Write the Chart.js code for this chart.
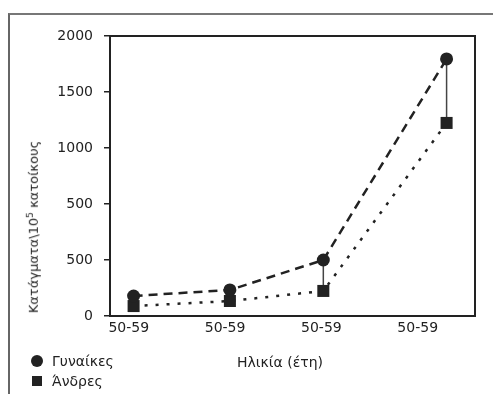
<!DOCTYPE html>
<html>
<head>
<meta charset="utf-8">
<script src="https://cdn.jsdelivr.net/npm/chart.js@4.4.1/dist/chart.umd.min.js"></script>
<style>
  body { margin: 0; background: #fff; }
  #wrap { position: relative; width: 493px; height: 394px; font-family: "DejaVu Sans", sans-serif; color: #222; overflow: hidden; }
  #chart { position: absolute; left: 0; top: 0; }
  #frame { position: absolute; left: 8px; top: 13px; right: -2px; bottom: -2px; border-left: 2px solid #666; border-top: 2px solid #777; }
  #y-title { position: absolute; left: 33px; top: 227px; transform: translate(-50%, -50%) rotate(-90deg); white-space: nowrap; font-size: 13px; }
  #x-title { position: absolute; left: 280px; top: 362px; transform: translate(-50%, -50%); font-size: 14px; white-space: nowrap; }
  #legend { position: absolute; left: 31px; top: 351px; font-size: 14px; line-height: 20px; }
  .legend-item { display: flex; align-items: center; }
  .mark { display: inline-block; background: #222; margin-right: 9px; }
  .mark.circle { width: 12px; height: 12px; border-radius: 50%; }
  .mark.rect { width: 10px; height: 10px; margin-left: 1px; margin-right: 10px; }
</style>
</head>
<body>
<div id="wrap">
  <div id="frame"></div>
  <canvas id="chart" width="493" height="394"></canvas>
  <div id="y-title">Κατάγματα\10<sup style="font-size:9px">5</sup> κατοίκους</div>
  <div id="x-title">Ηλικία (έτη)</div>
  <div id="legend"></div>
</div>
<script>
const ageGroups = ["50-59", "50-59", "50-59", "50-59"];
const groupTickPos = [0, 1, 2, 3];
const pointPos = [0.05, 1.05, 2.02, 3.3];
const women = [143, 186, 400, 1836];
const men = [71, 107, 179, 1379];
const yTickValues = [0, 400, 800, 1200, 1600, 2000];
const yTickLabels = ["0", "500", "500", "1000", "1500", "2000"];
const seriesNames = ["Γυναίκες", "Άνδρες"];

const ink = "#222";

// vertical link between the two markers of each age group
const connectors = {
  id: "connectors",
  beforeDatasetsDraw(chart) {
    const a = chart.getDatasetMeta(0).data;
    const b = chart.getDatasetMeta(1).data;
    const ctx = chart.ctx;
    ctx.save();
    ctx.strokeStyle = "#444";
    ctx.lineWidth = 1.5;
    a.forEach((p, i) => {
      ctx.beginPath();
      ctx.moveTo(p.x, p.y);
      ctx.lineTo(b[i].x, b[i].y);
      ctx.stroke();
    });
    ctx.restore();
  },
};

// top and right edges of the plot box
const plotBox = {
  id: "plotBox",
  afterDraw(chart) {
    const { left, top, right, bottom } = chart.chartArea;
    const ctx = chart.ctx;
    ctx.save();
    ctx.strokeStyle = ink;
    ctx.lineWidth = 2;
    ctx.beginPath();
    ctx.moveTo(left, top);
    ctx.lineTo(right, top);
    ctx.lineTo(right, bottom);
    ctx.stroke();
    ctx.restore();
  },
};

new Chart(document.getElementById("chart"), {
  type: "line",
  data: {
    datasets: [
      {
        label: seriesNames[0],
        data: women.map((v, i) => ({ x: pointPos[i], y: v })),
        borderColor: ink,
        borderWidth: 2.5,
        borderDash: [9, 6],
        pointStyle: "circle",
        pointRadius: 6.5,
        pointBackgroundColor: ink,
        pointBorderWidth: 0,
        tension: 0,
      },
      {
        label: seriesNames[1],
        data: men.map((v, i) => ({ x: pointPos[i], y: v })),
        borderColor: ink,
        borderWidth: 2.5,
        borderDash: [3, 8],
        pointStyle: "rect",
        pointRadius: 8.5,
        pointBackgroundColor: ink,
        pointBorderWidth: 0,
        tension: 0,
      },
    ],
  },
  options: {
    responsive: false,
    animation: false,
    layout: { padding: { top: 36, right: 18, left: 0, bottom: 0 } },
    plugins: { legend: { display: false }, tooltip: { enabled: false } },
    scales: {
      x: {
        type: "linear",
        min: -0.195,
        max: 3.595,
        afterBuildTicks: (s) => { s.ticks = groupTickPos.map((v) => ({ value: v })); },
        afterFit: (s) => { s.height = 78; },
        ticks: { callback: (v, i) => ageGroups[i], color: ink, font: { family: "DejaVu Sans", size: 14 }, padding: 4, maxRotation: 0 },
        grid: { display: false, drawTicks: false },
        border: { display: true, color: ink, width: 2 },
      },
      y: {
        min: 0,
        max: 2000,
        afterBuildTicks: (s) => { s.ticks = yTickValues.map((v) => ({ value: v })); },
        afterFit: (s) => { s.width = 110; },
        ticks: { callback: (v, i) => yTickLabels[i], color: ink, font: { family: "DejaVu Sans", size: 14 }, padding: 11 },
        grid: { drawOnChartArea: false, drawTicks: true, tickLength: 6, color: ink, lineWidth: 1.5 },
        border: { display: true, color: ink, width: 2 },
      },
    },
  },
  plugins: [connectors, plotBox],
});

const legendEl = document.getElementById("legend");
legendEl.innerHTML = seriesNames.map((name, i) => `
  <div class="legend-item"><span class="mark ${i === 0 ? "circle" : "rect"}"></span>${name}</div>
`).join("");
</script>
</body>
</html>
